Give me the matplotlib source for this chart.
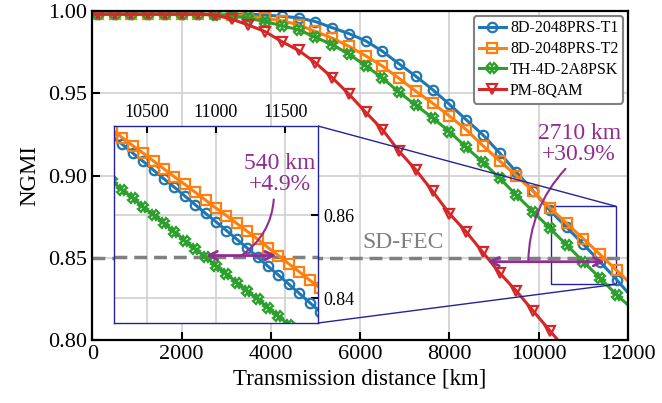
import matplotlib
matplotlib.use('Agg')
import matplotlib.pyplot as plt
from matplotlib.ticker import FormatStrFormatter
from mpl_toolkits.axes_grid1.inset_locator import mark_inset

plt.rcParams['font.family'] = ['Liberation Serif', 'DejaVu Serif']
plt.rcParams['mathtext.fontset'] = 'stix'

# ---------------- data ----------------
dist_main = [0, 125, 500, 875, 1250, 1625, 2000, 2375, 2750, 3125, 3500, 3875,
             4250, 4625, 5000, 5375, 5750, 6125, 6500, 6875, 7250, 7625, 8000,
             8375, 8750, 9125, 9500, 9875, 10250, 10625, 11000, 11375, 11750, 12000]

t1_main = [0.998, 0.998, 0.998, 0.998, 0.998, 0.998, 0.998, 0.998, 0.998, 0.998, 0.998, 0.9975,
           0.9967, 0.9958, 0.9935, 0.9898, 0.9862, 0.9818, 0.9755, 0.9678, 0.9603, 0.9522, 0.9433,
           0.9340, 0.9248, 0.9138, 0.9022, 0.8908, 0.8790, 0.8687, 0.8584, 0.8477, 0.8368, 0.8290]

t2_main = [0.998, 0.998, 0.998, 0.998, 0.998, 0.998, 0.998, 0.998, 0.998, 0.9975, 0.997, 0.9955,
           0.9940, 0.9915, 0.9875, 0.9835, 0.9785, 0.9727, 0.9665, 0.9590, 0.9512, 0.9440, 0.9362,
           0.9280, 0.9182, 0.9090, 0.9000, 0.8905, 0.8805, 0.8711, 0.8617, 0.8522, 0.8425, 0.8360]

th_main = [0.998, 0.998, 0.998, 0.998, 0.998, 0.998, 0.998, 0.998, 0.9975, 0.997, 0.9955, 0.9935,
           0.9910, 0.9885, 0.9840, 0.9795, 0.9738, 0.9667, 0.9593, 0.9505, 0.9428, 0.9350, 0.9268,
           0.9172, 0.9082, 0.8985, 0.8882, 0.8782, 0.8681, 0.8580, 0.8479, 0.8378, 0.8276, 0.8216]

pm_main = [0.998, 0.998, 0.998, 0.998, 0.998, 0.998, 0.998, 0.998, 0.9975, 0.995, 0.9914, 0.9874,
           0.9813, 0.9760, 0.9685, 0.9595, 0.9495, 0.9385, 0.9280, 0.9148, 0.9035, 0.8905, 0.8770,
           0.8660, 0.8535, 0.8410, 0.8300, 0.8180, 0.8060, 0.7940]

dist_zoom = [10250, 10325, 10400, 10475, 10550, 10625, 10700, 10775, 10850, 10925, 11000,
             11075, 11150, 11225, 11300, 11375, 11450, 11525, 11600, 11675, 11750, 11825]
t1_zoom = [0.8790, 0.8770, 0.8749, 0.8729, 0.8708, 0.8687, 0.8667, 0.8646, 0.8625, 0.8604, 0.8584,
           0.8563, 0.8542, 0.8521, 0.8499, 0.8477, 0.8456, 0.8434, 0.8412, 0.8390, 0.8368, 0.8346]
t2_zoom = [0.8805, 0.8786, 0.8767, 0.8749, 0.8730, 0.8711, 0.8692, 0.8674, 0.8655, 0.8636, 0.8617,
           0.8599, 0.8580, 0.8561, 0.8542, 0.8522, 0.8503, 0.8483, 0.8464, 0.8444, 0.8425, 0.8405]
th_zoom = [0.8681, 0.8661, 0.8641, 0.8620, 0.8600, 0.8580, 0.8560, 0.8539, 0.8519, 0.8499, 0.8479,
           0.8459, 0.8438, 0.8418, 0.8398, 0.8378, 0.8357, 0.8337, 0.8317, 0.8297, 0.8276, 0.8256]

labels = ['8D-2048PRS-T1', '8D-2048PRS-T2', 'TH-4D-2A8PSK', 'PM-8QAM']
colors = ['#1f77b4', '#ff7f0e', '#2ca02c', '#d62728']
markers = ['o', 's', 'X', 'v']
fec_threshold = 0.85

purple = '#912c91'
navy = '#23239a'

# ---------------- figure ----------------
fig = plt.figure(figsize=(6.62, 4.03), dpi=100)
ax = fig.add_axes([0.1393, 0.1551, 0.8093, 0.8179])

style = dict(lw=2.2, ms=6.8, mew=1.6, mfc='none')
main_series = [t1_main, t2_main, th_main, pm_main]
for vals, lab, c, m in zip(main_series, labels, colors, markers):
    d = dist_main[:len(vals)]
    ax.plot(d, vals, color=c, marker=m, label=lab,
            markevery=list(range(1, min(len(vals), 33))), **style)

ax.axhline(fec_threshold, color='#7f7f7f', ls='--', lw=2.5, dashes=(3.7, 2.0), zorder=1.5)
ax.text(6960, 0.8595, 'SD-FEC', color='#7f7f7f', fontsize=17, ha='center', va='center')

ax.set_xlim(0, 12000)
ax.set_ylim(0.80, 1.00)
ax.set_xticks([0, 2000, 4000, 6000, 8000, 10000, 12000])
ax.set_yticks([0.80, 0.85, 0.90, 0.95, 1.00])
ax.yaxis.set_major_formatter(FormatStrFormatter('%.2f'))
ax.grid(True, color='#cfcfcf', lw=1.2)
ax.set_axisbelow(True)
ax.tick_params(direction='in', length=6, width=1.5, labelsize=16)
for s in ax.spines.values():
    s.set_linewidth(1.6)
ax.set_xlabel('Transmission distance [km]', fontsize=16.5, labelpad=3)
ax.set_ylabel('NGMI', fontsize=16.5, labelpad=6)

leg = ax.legend(loc='upper right', fontsize=11.5, handlelength=1.7, handletextpad=0.25,
                borderpad=0.3, labelspacing=0.3, framealpha=1, fancybox=True,
                borderaxespad=0.3)
leg.get_frame().set_edgecolor('0.5')
leg.get_frame().set_linewidth(1.5)

# main annotation
ax.annotate('', xy=(11480, 0.8478), xytext=(8860, 0.8478),
            arrowprops=dict(arrowstyle='<->', color=purple, lw=2, mutation_scale=15,
                            shrinkA=0, shrinkB=0))
ax.annotate('2710 km\n+30.9%', xy=(9767, 0.8478), xytext=(10905, 0.9192),
            ha='center', va='center', color=purple, fontsize=17, linespacing=1.0,
            arrowprops=dict(arrowstyle='-', color=purple, lw=1.5, relpos=(0.38, 0.0),
                            connectionstyle='arc3,rad=0.2', shrinkA=1, shrinkB=0))

# ---------------- inset ----------------
axins = fig.add_axes([0.1722, 0.1985, 0.3082, 0.4888])
zoom_series = [t1_zoom, t2_zoom, th_zoom]
for vals, c, m in zip(zoom_series, colors, markers):
    axins.plot(dist_zoom, vals, color=c, marker=m, **style)
axins.axhline(fec_threshold, color='#7f7f7f', ls='--', lw=2.5, dashes=(3.7, 2.0), zorder=1.5)
axins.set_xlim(10265, 11735)
axins.set_ylim(0.8341, 0.8814)
axins.set_xticks([10500, 11000, 11500])
axins.set_yticks([0.84, 0.86])
axins.xaxis.tick_top()
axins.yaxis.tick_right()
axins.tick_params(direction='in', length=5, width=1.5, labelsize=13)
axins.grid(True, color='#cfcfcf', lw=1.2)
axins.set_axisbelow(True)
for s in axins.spines.values():
    s.set_edgecolor(navy)
    s.set_linewidth(1.0)

axins.annotate('', xy=(11435, 0.8503), xytext=(10927, 0.8503),
               arrowprops=dict(arrowstyle='<->', color=purple, lw=2, mutation_scale=15,
                               shrinkA=0, shrinkB=0))
axins.annotate('540 km\n+4.9%', xy=(11183, 0.8503), xytext=(11459, 0.8698),
               ha='center', va='center', color=purple, fontsize=17, linespacing=1.0,
               arrowprops=dict(arrowstyle='-', color=purple, lw=1.5, relpos=(0.42, 0.0),
                               connectionstyle='arc3,rad=-0.25', shrinkA=1, shrinkB=0))

mark_inset(ax, axins, loc1=1, loc2=4, fc='none', ec=navy, lw=1.0)

fig.savefig('out.png', dpi=100)
